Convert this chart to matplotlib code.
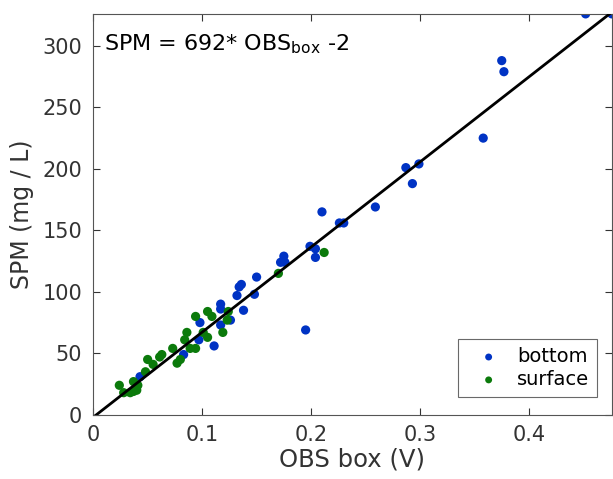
import numpy as np
import matplotlib
matplotlib.use("Agg")
import matplotlib.pyplot as plt

# OBS box voltage (V) and SPM (mg/L)
bottom_x = [0.452, 0.476, 0.375, 0.377, 0.358, 0.287, 0.299, 0.293, 0.259, 0.210,
            0.226, 0.230, 0.199, 0.204, 0.204, 0.175, 0.172, 0.176, 0.150, 0.195,
            0.134, 0.136, 0.132, 0.148, 0.117, 0.117, 0.138, 0.126, 0.117, 0.111,
            0.098, 0.097, 0.083, 0.043]
bottom_y = [326, 326, 288, 279, 225, 201, 204, 188, 169, 165,
            156, 156, 137, 135, 128, 129, 124, 124, 112, 69,
            104, 106, 97, 98, 90, 86, 85, 77, 73, 56,
            75, 61, 49, 31]

surface_x = [0.212, 0.170, 0.094, 0.105, 0.109, 0.119, 0.123, 0.124, 0.105, 0.101,
             0.086, 0.084, 0.094, 0.089, 0.080, 0.077, 0.073, 0.061, 0.063, 0.050,
             0.055, 0.048, 0.037, 0.024, 0.028, 0.034, 0.040, 0.037, 0.041]
surface_y = [132, 115, 80, 84, 80, 67, 77, 84, 63, 67,
             67, 61, 54, 54, 45, 42, 54, 47, 49, 45,
             41, 35, 27, 24, 18, 18, 20, 19, 24]

slope = 692
offset = -2

fig = plt.figure(figsize=(6.13, 4.79), dpi=100)
ax = fig.add_axes([0.152, 0.134, 0.846, 0.837])

ax.scatter(bottom_x, bottom_y, s=44, color='#0033c4', label='bottom', zorder=2, edgecolors='none')
ax.scatter(surface_x, surface_y, s=44, color='#0b7a0b', label='surface', zorder=2, edgecolors='none')

xl = np.array([0, 0.476])
ax.plot(xl, slope * xl + offset, color='black', lw=2, zorder=3)

ax.set_xlim(0, 0.476)
ax.set_ylim(0, 326)
ax.set_xticks([0, 0.1, 0.2, 0.3, 0.4])
ax.set_xticklabels(['0', '0.1', '0.2', '0.3', '0.4'])
ax.set_yticks(np.arange(0, 301, 50))

ax.tick_params(direction='in', top=True, right=True, labelsize=15, colors='#333333', length=5)
ax.tick_params(axis='x', pad=7)
ax.tick_params(axis='y', pad=8)
for sp in ax.spines.values():
    sp.set_color('#555555')
    sp.set_linewidth(0.8)

ax.set_xlabel('OBS box (V)', fontsize=17.5, color='#333333', labelpad=2)
ax.set_ylabel('SPM (mg / L)', fontsize=17, color='#333333', labelpad=6)

ax.text(0.02, 0.925, 'SPM = 692* OBS$_{\\mathrm{box}}$ -2', transform=ax.transAxes,
        fontsize=16, va='center', ha='left')

leg = ax.legend(loc='lower right', bbox_to_anchor=(0.971, 0.045), borderaxespad=0,
                fontsize=14, frameon=True, fancybox=False, handletextpad=0.3,
                borderpad=0.4, labelspacing=0.2, handlelength=2.3, markerscale=0.75)
leg.get_frame().set_edgecolor('#444444')
leg.get_frame().set_linewidth(0.8)

fig.savefig('out.png', dpi=100)
